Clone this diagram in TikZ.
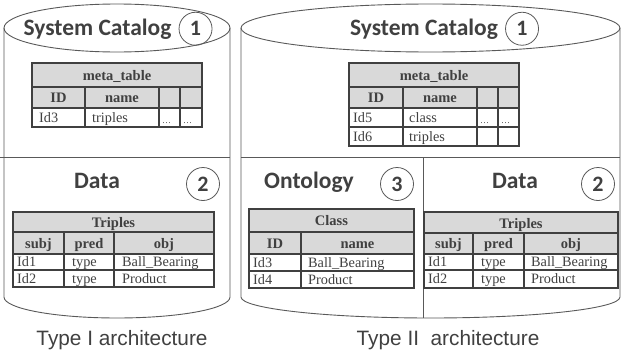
\documentclass[tikz,border=0pt]{standalone}
\usepackage{fontspec}
\setmainfont{Liberation Serif}
\newfontfamily\calibri{Carlito}
\newfontfamily\arialfont{Liberation Sans}
\usetikzlibrary{positioning}

\definecolor{cylline}{HTML}{595959}
\definecolor{tabline}{HTML}{404040}
\definecolor{headfill}{HTML}{D9D9D9}
\definecolor{darktext}{HTML}{404040}

\tikzset{
  cyl/.style={draw=cylline, line width=0.9pt},
  tab/.style={draw=tabline, line width=1.3pt},
  head/.style={fill=headfill},
  title/.style={font=\calibri\bfseries\fontsize{23.5}{26}\selectfont, text=darktext, inner sep=0pt, anchor=base},
  num/.style={circle, draw=cylline, line width=0.8pt, minimum size=33pt, inner sep=0pt,
    font=\calibri\bfseries\fontsize{22}{24}\selectfont, text=darktext},
  thead/.style={font=\bfseries\fontsize{14.5}{16}\selectfont, text=darktext, inner sep=0pt, anchor=base},
  tcell/.style={font=\fontsize{14.3}{16}\selectfont, text=darktext, anchor=base west, inner sep=0pt},
  caption/.style={font=\arialfont\fontsize{20.8}{24}\selectfont, text=darktext, anchor=base},
}

\begin{document}
\begin{tikzpicture}[x=1pt, y=-1pt]
  \useasboundingbox (0,0) rectangle (621,356);

  % Type I cylinder
  \draw[cyl] (117,28) ellipse [x radius=113, y radius=24];
  \draw[cyl] (4,28) -- (4,297) arc [start angle=180, end angle=0, x radius=113, y radius=21] -- (230,28);
  \draw[cyl] (0,157) -- (230,157);

  % Type II cylinder
  \draw[cyl] (430.5,28) ellipse [x radius=189.5, y radius=24];
  \draw[cyl] (241,28) -- (241,297) arc [start angle=180, end angle=0, x radius=189.5, y radius=21] -- (620,28);
  \draw[cyl] (241,157) -- (620,157);
  \draw[cyl] (423,157) -- (423,318);

  % headings
  \node[title] (sysL) at (97.5,35) {System Catalog};
  \node[num, right=7pt of sysL] (oneL) {1};
  \node[title] (dataL) at (97,188) {Data};
  \node[num] (twoL) at (203,184) {2};

  \node[title] (sysR) at (424,35) {System Catalog};
  \node[num, right=7pt of sysR] (oneR) {1};
  \node[title] (ontoR) at (309,188) {Ontology};
  \node[num] (threeR) at (397,184) {3};
  \node[title] (dataR) at (515,188) {Data};
  \node[num] (twoR) at (598,184) {2};

  % meta_table (Type I)
  \fill[head] (32,63) rectangle (202,108);
  \draw[tab] (32,63) rectangle (202,127);
  \draw[tab] (32,87) -- (202,87) (32,108) -- (202,108);
  \draw[tab] (85,87) -- (85,127) (159,87) -- (159,127) (180,87) -- (180,127);
  \node[thead] (mtL) at (117,80) {meta\_table};
  \node[thead] (mtLid) at (58.5,102) {ID};
  \node[thead] (mtLname) at (122,102) {name};
  \node[tcell] (mtLa) at (39,122) {Id3};
  \node[tcell] (mtLb) at (92,122) {triples};
  \node[tcell, font=\small] (mtLc) at (162,123) {\dots};
  \node[tcell, font=\small] (mtLd) at (183,123) {\dots};

  % meta_table (Type II)
  \fill[head] (349,63) rectangle (519,108);
  \draw[tab] (349,63) rectangle (519,146);
  \draw[tab] (349,87) -- (519,87) (349,108) -- (519,108) (349,127) -- (519,127);
  \draw[tab] (403,87) -- (403,146) (477,87) -- (477,146) (498,87) -- (498,146);
  \node[thead] (mtR) at (434,80) {meta\_table};
  \node[thead] (mtRid) at (376,102) {ID};
  \node[thead] (mtRname) at (440,102) {name};
  \node[tcell] (mtRa) at (353,122) {Id5};
  \node[tcell] (mtRb) at (409,122) {class};
  \node[tcell, font=\small] (mtRc) at (480,123) {\dots};
  \node[tcell, font=\small] (mtRd) at (501,123) {\dots};
  \node[tcell] (mtRe) at (353,141) {Id6};
  \node[tcell] (mtRf) at (409,141) {triples};

  % Triples (Type I)
  \fill[head] (13,212) rectangle (214,254);
  \draw[tab] (13,212) rectangle (214,287);
  \draw[tab] (13,232) -- (214,232) (13,254) -- (214,254) (13,270) -- (214,270);
  \draw[tab] (64,232) -- (64,287) (114,232) -- (114,287);
  \node[thead] (trL) at (113.5,227) {Triples};
  \node[thead] (trLs) at (38.5,248) {subj};
  \node[thead] (trLp) at (89,248) {pred};
  \node[thead] (trLo) at (164,248) {obj};
  \node[tcell] (trLa) at (17,266.5) {Id1};
  \node[tcell] (trLb) at (72,266.5) {type};
  \node[tcell] (trLc) at (122,266.5) {Ball\_Bearing};
  \node[tcell] (trLd) at (17,283) {Id2};
  \node[tcell] (trLe) at (72,283) {type};
  \node[tcell] (trLf) at (122,283) {Product};

  % Class (Type II)
  \fill[head] (249,209) rectangle (414,254);
  \draw[tab] (249,209) rectangle (414,288);
  \draw[tab] (249,232) -- (414,232) (249,254) -- (414,254) (249,271) -- (414,271);
  \draw[tab] (301,232) -- (301,288);
  \node[thead] (clR) at (331.5,225.5) {Class};
  \node[thead] (clRid) at (275,248) {ID};
  \node[thead] (clRname) at (357.5,248) {name};
  \node[tcell] (clRa) at (253,267) {Id3};
  \node[tcell] (clRb) at (308,267) {Ball\_Bearing};
  \node[tcell] (clRc) at (253,284) {Id4};
  \node[tcell] (clRd) at (308,284) {Product};

  % Triples (Type II)
  \fill[head] (424,212) rectangle (618,254);
  \draw[tab] (424,212) rectangle (618,288);
  \draw[tab] (424,233) -- (618,233) (424,254) -- (618,254) (424,270) -- (618,270);
  \draw[tab] (473,233) -- (473,288) (524,233) -- (524,288);
  \node[thead] (trR) at (521,228) {Triples};
  \node[thead] (trRs) at (448.5,248.5) {subj};
  \node[thead] (trRp) at (498.5,248.5) {pred};
  \node[thead] (trRo) at (571,248.5) {obj};
  \node[tcell] (trRa) at (428,266.5) {Id1};
  \node[tcell] (trRb) at (481,266.5) {type};
  \node[tcell] (trRc) at (531,266.5) {Ball\_Bearing};
  \node[tcell] (trRd) at (428,283.5) {Id2};
  \node[tcell] (trRe) at (481,283.5) {type};
  \node[tcell] (trRf) at (531,283.5) {Product};

  % captions
  \node[caption] (capL) at (122,345) {Type I architecture};
  \node[caption] (capR) at (448,345) {Type II\ \ architecture};
\end{tikzpicture}
\end{document}
